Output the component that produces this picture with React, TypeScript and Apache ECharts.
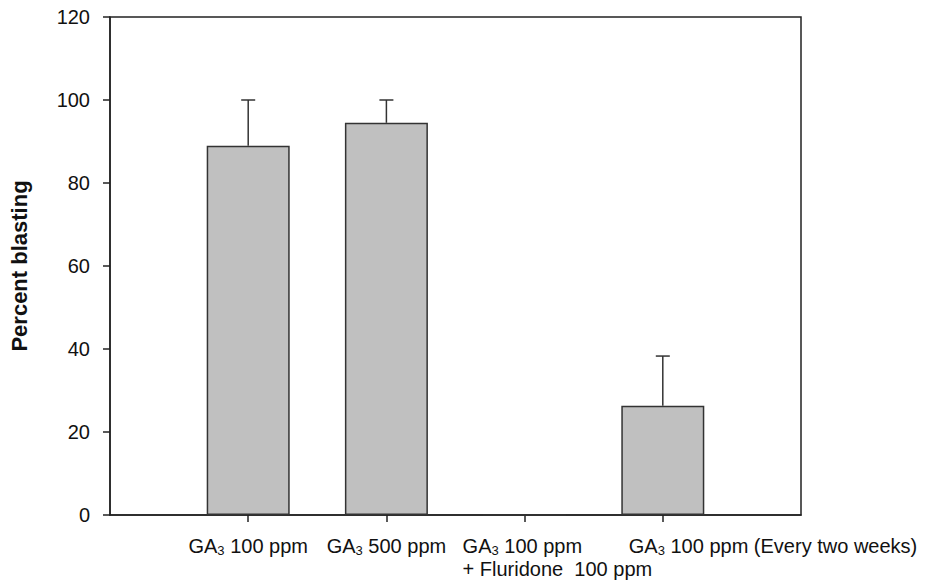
import React, { useEffect, useRef } from "react";
import * as echarts from "echarts";

const categories = [
  "",
  "GA3 100 ppm",
  "GA3 500 ppm",
  "GA3 100 ppm\n+ Fluridone  100 ppm",
  "GA3 100 ppm (Every two weeks)",
  "",
];
const means: (number | string)[] = ["-", 89, 94.5, 0, 26.3, "-"];
const upperErr: (number | null)[] = [null, 100, 100, null, 38.3, null];
const yMin = 0;
const yMax = 120;
const yInterval = 20;
const yTitle = "Percent blasting";

const FONT = "'Liberation Sans', Arial, sans-serif";

function lineRich(line: string) {
  if (line.startsWith("GA3")) {
    return `{n|GA}{s|3}{n|${line.slice(3)}}`;
  }
  return `{n|${line}}`;
}
const richLabel = (v: string) => v.split("\n").map(lineRich).join("\n");

export default function App() {
  const ref = useRef<HTMLDivElement>(null);
  useEffect(() => {
    if (!ref.current) return;
    const chart = echarts.init(ref.current, null, { renderer: "svg" });
    const errData = upperErr
      .map((u, i) => (u == null ? null : [i, means[i] as number, u]))
      .filter((d) => d) as number[][];
    const rich = {
      n: { fontFamily: FONT, fontSize: 20, color: "#111", lineHeight: 23 },
      s: { fontFamily: FONT, fontSize: 13, color: "#111", lineHeight: 13, verticalAlign: "bottom" },
    };
    const richLeft = {
      n: { ...rich.n, align: "left" },
      s: { ...rich.s, align: "left" },
    };
    const axisLabelIdx = [1, 2];
    // offsets of the left-aligned labels from their ticks
    const leftLabels = [
      { idx: 3, dx: -62 },
      { idx: 4, dx: -34 },
    ];
    chart.setOption({
      animation: false,
      backgroundColor: "#fff",
      grid: {
        left: 110,
        right: 124,
        top: 17,
        bottom: 73,
        show: true,
        borderColor: "#222",
        borderWidth: 1.5,
        backgroundColor: "transparent",
      },
      xAxis: {
        type: "category",
        data: categories,
        boundaryGap: false,
        axisLine: { show: true, lineStyle: { color: "#222", width: 1.5 } },
        axisTick: {
          show: true,
          length: 7,
          interval: (i: number) => i > 0 && i < categories.length - 1,
          lineStyle: { color: "#222", width: 1.5 },
        },
        axisLabel: {
          interval: (i: number) => axisLabelIdx.includes(i),
          hideOverlap: false,
          showMaxLabel: true,
          showMinLabel: true,
          margin: 19,
          fontFamily: FONT,
          fontSize: 20,
          color: "#111",
          formatter: (value: string) => (value ? richLabel(value) : ""),
          rich,
        },
        splitLine: { show: false },
      },
      yAxis: {
        type: "value",
        min: yMin,
        max: yMax,
        interval: yInterval,
        name: yTitle,
        nameLocation: "middle",
        nameGap: 80,
        nameTextStyle: { fontFamily: FONT, fontSize: 22, fontWeight: "bold", color: "#111" },
        axisLine: { show: true, lineStyle: { color: "#222", width: 1.5 } },
        axisTick: { show: true, length: 7, lineStyle: { color: "#222", width: 1.5 } },
        axisLabel: { margin: 20, fontFamily: FONT, fontSize: 20, color: "#111" },
        splitLine: { show: false },
      },
      series: [
        {
          type: "bar",
          data: means,
          barWidth: 83,
          itemStyle: { color: "#c0c0c0", borderColor: "#333", borderWidth: 1.5 },
        },
        {
          type: "custom",
          data: errData,
          z: 3,
          renderItem: (params: any, api: any) => {
            const x = api.value(0);
            const base = api.coord([x, api.value(1)]);
            const top = api.coord([x, api.value(2)]);
            const cap = 7;
            const style = { stroke: "#333", lineWidth: 1.5 };
            return {
              type: "group",
              children: [
                { type: "line", shape: { x1: base[0], y1: base[1], x2: top[0], y2: top[1] }, style },
                { type: "line", shape: { x1: top[0] - cap, y1: top[1], x2: top[0] + cap, y2: top[1] }, style },
              ],
            };
          },
        },
      ],
    });
    const ly = chart.convertToPixel({ yAxisIndex: 0 }, yMin) as number;
    chart.setOption({
      graphic: leftLabels.map(({ idx, dx }) => ({
        type: "text",
        x: (chart.convertToPixel({ xAxisIndex: 0 }, idx) as number) + dx,
        y: ly + 19,
        style: {
          text: richLabel(categories[idx]),
          rich: richLeft,
          fontFamily: FONT,
          fontSize: 20,
          fill: "#111",
          align: "left",
          verticalAlign: "top",
        },
      })),
    });
    return () => chart.dispose();
  }, []);
  return <div ref={ref} style={{ width: 925, height: 588, margin: -8 }} />;
}
